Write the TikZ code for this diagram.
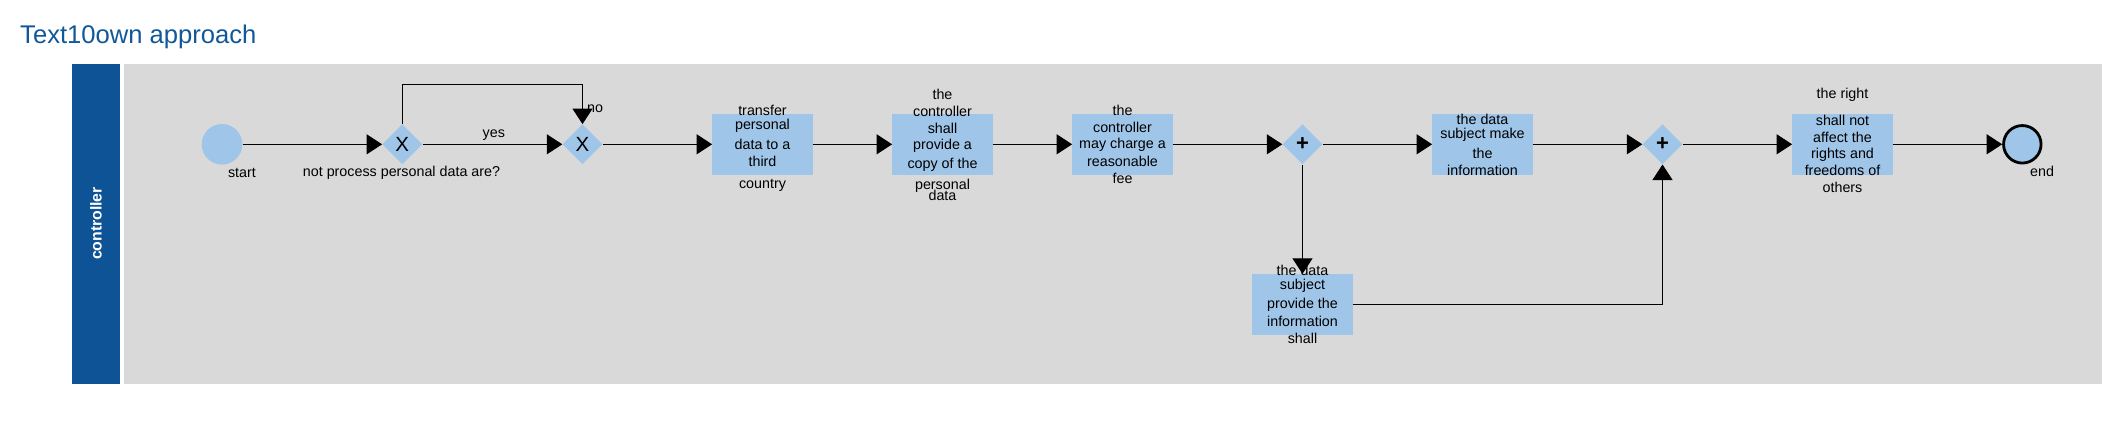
\documentclass[tikz,border=0pt]{standalone}
\usepackage{fontspec}
\setmainfont{Liberation Sans}
\usetikzlibrary{shapes.geometric,arrows.meta}
\definecolor{lanebar}{HTML}{0E5395}
\definecolor{lanegray}{HTML}{D9D9D9}
\definecolor{taskblue}{HTML}{9FC5E8}
\definecolor{titleblue}{HTML}{115899}
\begin{document}
\begin{tikzpicture}[x=1pt,y=1pt]
    \tikzstyle{every node}+=[inner sep=0pt]
    \tikzstyle{task}=[rectangle, fill=taskblue, minimum width=100.4pt, minimum height=60.7pt]
    \tikzstyle{tasktext}=[align=center, font=\fontsize{14.3}{17.2}\selectfont]
    \tikzstyle{gateway}=[diamond, fill=taskblue, minimum width=40pt, minimum height=40pt]
    \tikzstyle{lbl}=[anchor=base, font=\fontsize{14.3}{17.2}\selectfont]
    \tikzstyle{flow}=[draw=black, line width=1pt, -{Triangle[length=15.5pt,width=20pt]}]
    \useasboundingbox (0,0) rectangle (2119,-426);
    \node [anchor=base west, text=titleblue, font=\fontsize{25.6}{30}\selectfont] (title) at (20,-43.3) {Text10own approach};
    \fill [lanebar] (72,-64) rectangle (120,-384.3);
    \fill [lanegray] (124.3,-64) rectangle (2101.5,-384.3);
    \node [rotate=90, text=white, font=\bfseries\fontsize{15.8}{19}\selectfont] (lanelbl) at (96,-223.5) {controller};
    \node [circle, fill=taskblue, minimum size=40.6pt] (start) at (222,-144.3) {};
    \node [circle, fill=taskblue, draw=black, line width=2.8pt, minimum size=37.5pt] (end) at (2022.3,-144.3) {};
    \node [gateway, font=\fontsize{20.5}{24}\selectfont] (gw1) at (402.3,-144.3) {X};
    \node [gateway, font=\fontsize{20.5}{24}\selectfont] (gw2) at (582.5,-144.3) {X};
    \node [gateway, font=\bfseries\fontsize{22}{26}\selectfont] (p1) at (1302.5,-144.3) {+};
    \node [gateway, font=\bfseries\fontsize{22}{26}\selectfont] (p2) at (1662.5,-144.3) {+};
    \node [task] (t1) at (762.5,-144.3) {};
    \node [task] (t2) at (942.5,-144.3) {};
    \node [task] (t3) at (1122.5,-144.3) {};
    \node [task] (t4) at (1482.5,-144.3) {};
    \node [task] (t5) at (1302.5,-304.4) {};
    \node [task] (t6) at (1842.5,-144.3) {};
    \node [tasktext] (t1text) at (762.5,-148.7) {\strut transfer\\[-3.9pt]\strut personal\\[3.5pt]\strut data to a\\[-0.5pt]\strut third\\[4.4pt]\strut country};
    \node [tasktext] (t2text) at (942.5,-146.1) {\strut the\\[-0.2pt]\strut controller\\[0.1pt]\strut shall\\[-1.5pt]\strut provide a\\[2.1pt]\strut copy of the\\[3.5pt]\strut personal\\[-6.2pt]\strut data};
    \node [tasktext] (t3text) at (1122.5,-146.4) {\strut the\\[-0.5pt]\strut controller\\[-0.9pt]\strut may charge a\\[0.5pt]\strut reasonable\\[-0.2pt]\strut fee};
    \node [tasktext] (t4text) at (1482.5,-146.7) {\strut the data\\[-3.5pt]\strut subject make\\[2.8pt]\strut the\\[-0.6pt]\strut information};
    \node [tasktext] (t5text) at (1302.5,-306.4) {\strut the data\\[-3.6pt]\strut subject\\[2.2pt]\strut provide the\\[1.1pt]\strut information\\[-0.2pt]\strut shall};
    \node [tasktext] (t6text) at (1842.5,-141.9) {\strut the right\\[10.2pt]\strut shall not\\[-0.6pt]\strut affect the\\[-0.8pt]\strut rights and\\[-0.2pt]\strut freedoms of\\[-0.6pt]\strut others};
    \node [lbl] (startlbl) at (242,-177) {start};
    \node [lbl] (gw1lbl) at (401.5,-176) {not process personal data are?};
    \node [lbl] (yeslbl) at (493.8,-137) {yes};
    \node [lbl] (nolbl) at (595,-112) {no};
    \node [lbl] (endlbl) at (2042,-176.7) {end};
    \draw [flow] (start) -- (gw1);
    \draw [flow] (gw1) -- (gw2);
    \draw [flow] (gw1.north) -- ++(0,40) -| (gw2.north);
    \draw [flow] (gw2) -- (t1);
    \draw [flow] (t1) -- (t2);
    \draw [flow] (t2) -- (t3);
    \draw [flow] (t3) -- (p1);
    \draw [flow] (p1) -- (t4);
    \draw [flow] (p1) -- (t5);
    \draw [flow] (t4) -- (p2);
    \draw [flow] (t5) -| (p2);
    \draw [flow] (p2) -- (t6);
    \draw [flow] (t6) -- (end);
\end{tikzpicture}
\end{document}
